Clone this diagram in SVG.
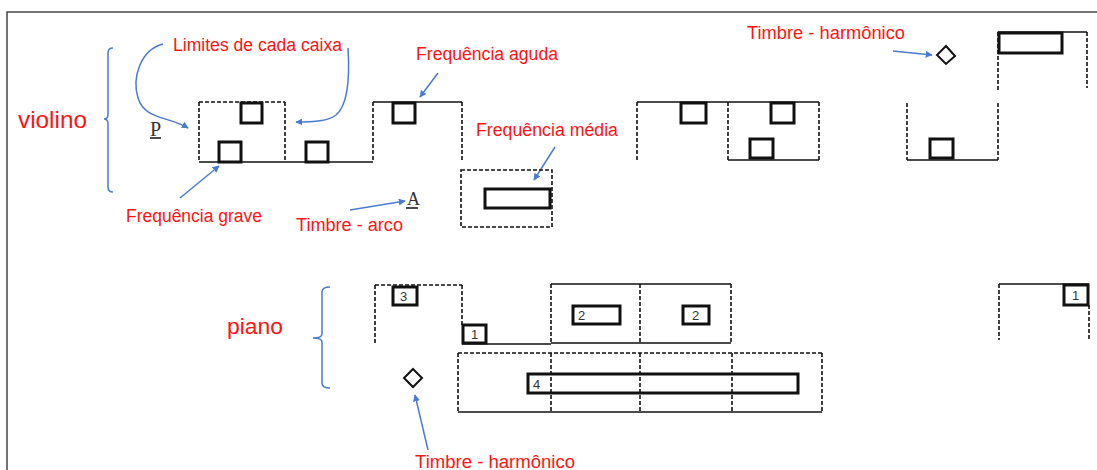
<svg xmlns="http://www.w3.org/2000/svg" width="1097" height="470" viewBox="0 0 1097 470">
<style>
.bg{fill:#fff}
.frame{fill:none;stroke:#444;stroke-width:1.5}
.ln{fill:none;stroke:#111;stroke-width:1.5}
.dl{fill:none;stroke:#111;stroke-width:1.6;stroke-dasharray:4 2}
.sq{fill:none;stroke:#111;stroke-width:3}
.dm{fill:none;stroke:#111;stroke-width:2}
.lbl{font-family:"Liberation Sans",Arial,sans-serif;fill:#ff1414}
.num{font-family:"Liberation Sans",Arial,sans-serif;font-size:13px;fill:#333}
.hw{font-family:"Liberation Serif",serif;fill:#333}
.ar{fill:none;stroke:#4a7bd0;stroke-width:1.5}
.br{fill:none;stroke:#4a7bd0;stroke-width:1.5}
</style>
<defs>
<marker id="ah" viewBox="0 0 10 10" refX="9" refY="5" markerWidth="7" markerHeight="7" orient="auto" markerUnits="userSpaceOnUse">
<path d="M0,0 L10,5 L0,10 z" fill="#4a7bd0"/>
</marker>
</defs>
<rect class="bg" x="0" y="0" width="1097" height="470"/>
<path class="frame" d="M7,475 L7,12 L1100,12"/>

<g id="brackets">
<path class="br" d="M113,48 Q108,48 108,53 L108,114 Q108,119 104,119 Q108,119 108,124 L108,187 Q108,192 113,192"/>
<path class="br" d="M330,287 Q322,287 322,292 L322,334 Q322,338 313,338 Q322,338 322,342 L322,383 Q322,388 330,388"/>
</g>

<g id="labels">
<text class="lbl" x="18" y="128" font-size="24" textLength="69" lengthAdjust="spacingAndGlyphs">violino</text>
<text class="lbl" x="227" y="334" font-size="22" textLength="56" lengthAdjust="spacingAndGlyphs">piano</text>
<text class="lbl" x="173" y="51" font-size="18" textLength="169" lengthAdjust="spacingAndGlyphs">Limites de cada caixa</text>
<text class="lbl" x="416" y="60" font-size="18" textLength="142" lengthAdjust="spacingAndGlyphs">Frequência aguda</text>
<text class="lbl" x="476" y="136" font-size="18" textLength="142" lengthAdjust="spacingAndGlyphs">Frequência média</text>
<text class="lbl" x="126" y="222" font-size="18" textLength="136" lengthAdjust="spacingAndGlyphs">Frequência grave</text>
<text class="lbl" x="296" y="231" font-size="18" textLength="107" lengthAdjust="spacingAndGlyphs">Timbre - arco</text>
<text class="lbl" x="747" y="39" font-size="18" textLength="158" lengthAdjust="spacingAndGlyphs">Timbre - harmônico</text>
<text class="lbl" x="415" y="468" font-size="18" textLength="160" lengthAdjust="spacingAndGlyphs">Timbre - harmônico</text>
</g>

<g id="connectors">
<path class="ar" marker-end="url(#ah)" d="M163,44 C140,50 132,78 138,98 C145,120 168,116 188,128"/>
<path class="ar" marker-end="url(#ah)" d="M348,48 C350,80 348,105 336,115 C328,121 315,122 296,122"/>
<path class="ar" marker-end="url(#ah)" d="M180,198 L219,166"/>
<path class="ar" marker-end="url(#ah)" d="M350,210 L405,201"/>
<path class="ar" marker-end="url(#ah)" d="M438,73 L420,97"/>
<path class="ar" marker-end="url(#ah)" d="M555,147 L534,180"/>
<path class="ar" marker-end="url(#ah)" d="M893,51 L932,55"/>
<path class="ar" marker-end="url(#ah)" d="M428,450 L415,395"/>
</g>

<g id="v-dyn">
<text class="hw" x="150" y="136" font-size="20">P</text>
<path class="ln" d="M150,138 L161,138"/>
</g>
<g id="v-arco">
<text class="hw" x="407" y="205" font-size="18">A</text>
<path class="ln" d="M406,208 L418,208"/>
</g>

<g id="v-box1">
<path class="dl" d="M199,102 L285,102"/>
<path class="dl" d="M199,102 L199,162 M285,102 L285,162"/>
<path class="ln" d="M199,162 L373,162"/>
<rect class="sq" x="241" y="103" width="21" height="20"/>
<rect class="sq" x="219" y="142" width="22" height="20"/>
<rect class="sq" x="306" y="142" width="22" height="20"/>
</g>

<g id="v-box2">
<path class="ln" d="M373,102 L462,102"/>
<path class="dl" d="M373,102 L373,162 M462,102 L462,162"/>
<rect class="sq" x="393" y="103" width="22" height="20"/>
</g>

<g id="v-box3">
<rect class="dl" x="461" y="170" width="91" height="57"/>
<rect class="sq" x="485" y="189" width="65" height="19"/>
</g>

<g id="v-box4">
<path class="ln" d="M637,102 L819,102 M728,160 L819,160"/>
<path class="dl" d="M637,102 L637,160 M728,102 L728,160 M819,102 L819,160"/>
<rect class="sq" x="681" y="103" width="25" height="20"/>
<rect class="sq" x="771" y="103" width="23" height="20"/>
<rect class="sq" x="750" y="139" width="23" height="19"/>
</g>

<g id="v-box5">
<path class="ln" d="M907,160 L998,160 M998,32 L1087,32"/>
<path class="dl" d="M907,103 L907,160 M998,32 L998,90 M998,103 L998,160 M1087,32 L1087,88"/>
<rect class="sq" x="999" y="33" width="63" height="20"/>
<rect class="sq" x="930" y="139" width="23" height="19"/>
<path class="dm" d="M946,46 L955,56 L946,64 L937,55 z"/>
</g>

<g id="p-box1">
<path class="dl" d="M375,285 L462,285"/>
<path class="dl" d="M375,285 L375,343 M462,285 L462,325"/>
<rect class="sq" x="393" y="287" width="24" height="18"/>
<text class="num" x="400" y="301">3</text>
</g>

<g id="p-box2">
<path class="ln" d="M462,344 L551,344"/>
<rect class="sq" x="463" y="325" width="23" height="18"/>
<text class="num" x="471" y="339">1</text>
</g>

<g id="p-box3">
<path class="ln" d="M551,284 L731,284 M551,343 L731,343"/>
<path class="dl" d="M551,284 L551,343 M640,284 L640,343 M731,284 L731,343"/>
<rect class="sq" x="573" y="306" width="47" height="18"/>
<text class="num" x="578" y="320">2</text>
<rect class="sq" x="683" y="306" width="26" height="18"/>
<text class="num" x="692" y="320">2</text>
</g>

<g id="p-box4">
<path class="dl" d="M458,353 L822,353"/>
<path class="ln" d="M458,412 L822,412"/>
<path class="dl" d="M458,353 L458,412 M551,353 L551,412 M640,353 L640,412 M732,353 L732,412 M822,353 L822,412"/>
<rect class="sq" x="528" y="374" width="270" height="19"/>
<text class="num" x="533" y="389">4</text>
</g>

<g id="p-harm">
<path class="dm" d="M413,369 L422,378 L413,387 L404,378 z"/>
</g>

<g id="p-box5">
<path class="ln" d="M999,284 L1089,284"/>
<path class="dl" d="M999,284 L999,340 M1089,305 L1089,340"/>
<rect class="sq" x="1064" y="285" width="24" height="20"/>
<text class="num" x="1072" y="300">1</text>
</g>
</svg>
